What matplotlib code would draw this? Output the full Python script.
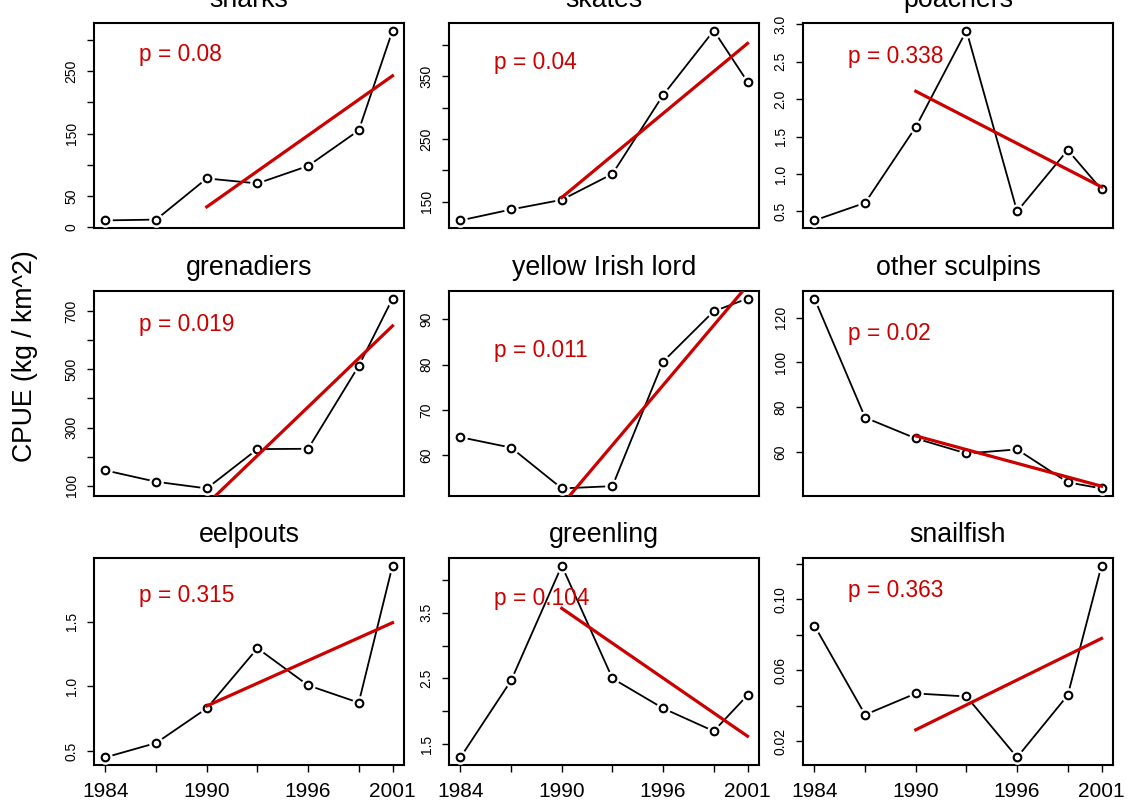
import numpy as np
import matplotlib
matplotlib.use("Agg")
import matplotlib.pyplot as plt

plt.rcParams['font.family'] = ['Liberation Sans', 'DejaVu Sans']

# survey years
years = [1984, 1987, 1990, 1993, 1996, 1999, 2001]
year_labels = ['1984', '', '1990', '', '1996', '', '2001']

# CPUE per group
sharks = [10.7, 12, 78, 70, 98, 155, 315]
skates = [120.4, 137.8, 153.2, 194.4, 319.8, 422.5, 341]
poachers = [0.38, 0.615, 1.628, 2.916, 0.5, 1.32, 0.793]
grenadiers = [152.7, 113.7, 90.8, 226, 227, 512, 743.5]
yellow_irish_lord = [64.0, 61.7, 52.7, 53.2, 80.7, 91.8, 94.6]
other_sculpins = [128.5, 75.4, 66.1, 59.4, 61.2, 46.5, 43.8]
eelpouts = [0.451, 0.562, 0.83, 1.295, 1.008, 0.874, 1.934]
greenling = [1.301, 2.469, 4.214, 2.5, 2.046, 1.699, 2.245]
snailfish = [0.0851, 0.0349, 0.0469, 0.0452, 0.0109, 0.0459, 0.1189]

names = ['sharks', 'skates', 'poachers', 'grenadiers', 'yellow Irish lord',
         'other sculpins', 'eelpouts', 'greenling', 'snailfish']
series = [sharks, skates, poachers, grenadiers, yellow_irish_lord,
          other_sculpins, eelpouts, greenling, snailfish]
pvals = ['0.08', '0.04', '0.338', '0.019', '0.011', '0.02', '0.315', '0.104', '0.363']

# y ticks and their labels (R drops some labels that would overlap)
yticks = [
  [0, 50, 100, 150, 200, 250, 300],
  [150, 200, 250, 300, 350, 400],
  [0.5, 1.0, 1.5, 2.0, 2.5, 3.0],
  [100, 200, 300, 400, 500, 600, 700],
  [60, 70, 80, 90],
  [60, 80, 100, 120],
  [0.5, 1.0, 1.5],
  [1.5, 2.0, 2.5, 3.0, 3.5, 4.0],
  [0.02, 0.04, 0.06, 0.08, 0.10, 0.12],
]
ylabels = [
  ['0', '50', '', '150', '', '250', ''],
  ['150', '', '250', '', '350', ''],
  ['0.5', '1.0', '1.5', '2.0', '2.5', '3.0'],
  ['100', '', '300', '', '500', '', '700'],
  ['60', '70', '80', '90'],
  ['60', '80', '100', '120'],
  ['0.5', '1.0', '1.5'],
  ['1.5', '', '2.5', '', '3.5', ''],
  ['0.02', '', '0.06', '', '0.10', ''],
]

fit_start = 1990
text_x = 1986
red = '#CD0000'

W, H = 1130, 805
fig = plt.figure(figsize=(W / 100, H / 100), dpi=100)

col_left = [94, 449, 803]
col_w = 310
row_top = [23, 291, 558]
row_h = [205, 205, 207]

yrs = np.array(years, dtype=float)
for i, (name, ys) in enumerate(zip(names, series)):
  r, c = divmod(i, 3)
  ax = fig.add_axes([col_left[c] / W, 1 - (row_top[r] + row_h[r]) / H,
                     col_w / W, row_h[r] / H])
  ys = np.array(ys, dtype=float)

  # data line with R "type='b'" style gaps around the points
  ax.plot(yrs, ys, color='black', lw=1.3, zorder=2)
  ax.plot(yrs, ys, 'o', ms=9.5, mfc='white', mec='white', zorder=3)
  ax.plot(yrs, ys, 'o', ms=5.5, mfc='white', mec='black', mew=1.5, zorder=4)

  # linear trend from 1990 on
  m = yrs >= fit_start
  slope, icpt = np.polyfit(yrs[m], ys[m], 1)
  fx = np.array([fit_start, years[-1]], dtype=float)
  ax.plot(fx, slope * fx + icpt, color=red, lw=2.3, zorder=5)

  ax.text(text_x, 0.88 * ys.max(), f'p = {pvals[i]}', color=red,
          fontsize=16.4, ha='left', va='center', zorder=6)

  xr = yrs.max() - yrs.min()
  ax.set_xlim(yrs.min() - 0.04 * xr, yrs.max() + 0.04 * xr)
  yr = ys.max() - ys.min()
  ax.set_ylim(ys.min() - 0.04 * yr, ys.max() + 0.04 * yr)

  ax.set_yticks(yticks[i])
  ax.set_yticklabels(ylabels[i], rotation=90, va='center', fontsize=10)
  ax.tick_params(axis='y', length=5, width=1, pad=6)

  if r == 2:
    ax.set_xticks(years)
    ax.set_xticklabels(year_labels, fontsize=15)
    ax.tick_params(axis='x', length=5, width=1, pad=7)
  else:
    ax.set_xticks([])

  for sp in ax.spines.values():
    sp.set_linewidth(1.5)

  ax.set_title(name, fontsize=19.3, pad=11.5)

fig.text(25 / W, 1 - 356 / H, 'CPUE (kg / km^2)', rotation=90,
         fontsize=19.2, ha='center', va='center')

fig.savefig('out.png', dpi=100)
